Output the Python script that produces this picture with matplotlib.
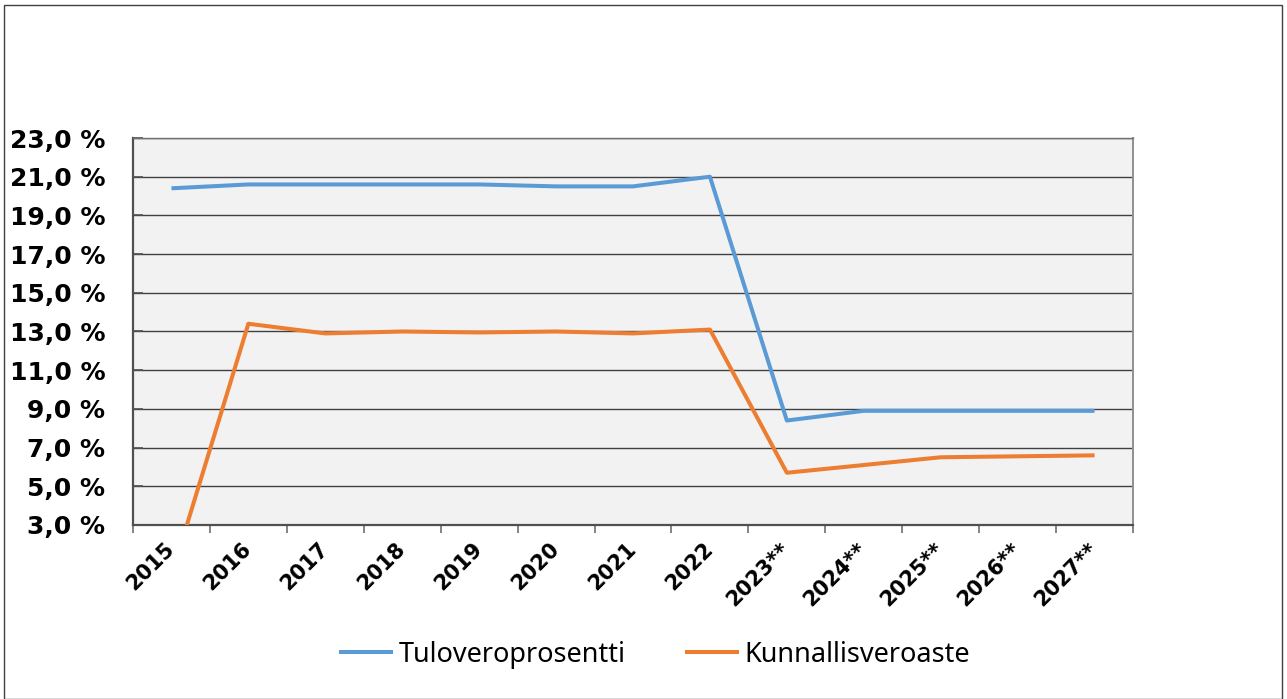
import matplotlib
matplotlib.use("Agg")
import matplotlib.pyplot as plt
import numpy as np
from matplotlib.patches import Rectangle

years = ["2015", "2016", "2017", "2018", "2019", "2020", "2021", "2022",
         "2023**", "2024**", "2025**", "2026**", "2027**"]
tulovero = [20.4, 20.6, 20.6, 20.6, 20.6, 20.5, 20.5, 21.0, 8.4, 8.9, 8.9, 8.9, 8.9]
kunnallis = [0.4, 13.4, 12.9, 13.0, 12.95, 13.0, 12.9, 13.1, 5.7, 6.1, 6.5, 6.55, 6.6]
series_names = ["Tuloveroprosentti", "Kunnallisveroaste"]
yticks = [3, 5, 7, 9, 11, 13, 15, 17, 19, 21, 23]

fig = plt.figure(figsize=(12.87, 6.99), dpi=100)
ax = fig.add_axes([133/1287, 1-525/699, 1000/1287, 387/699])
ax.set_facecolor("#f2f2f2")

x = np.arange(len(years))
ax.plot(x, tulovero, color="#5B9BD5", lw=2.9, label=series_names[0], solid_capstyle="butt", zorder=3)
ax.plot(x, kunnallis, color="#ED7D31", lw=2.9, label=series_names[1], solid_capstyle="butt", zorder=3)

ax.set_xlim(-0.5, len(years) - 0.5)
ax.set_ylim(3, 23)
ax.set_yticks(yticks)
ax.set_yticklabels([f"{v},0 %" for v in yticks], fontsize=18, fontweight="bold", family="DejaVu Sans")
ax.yaxis.grid(True, color="#404040", lw=1.0, zorder=1)
ax.tick_params(axis="y", direction="in", length=7, width=1.2, color="#505050", pad=20)

ax.set_xticks(x)
ax.set_xticklabels(years, rotation=45, ha="right", va="center", rotation_mode="anchor",
                   fontsize=15, fontweight="bold")
ax.tick_params(axis="x", which="major", length=0, pad=15)
ax.set_xticks(np.arange(-0.5, len(years)), minor=True)
ax.tick_params(axis="x", which="minor", direction="out", length=6, width=1.2, color="#707070")

for s in ["left", "bottom"]:
    ax.spines[s].set_color("#505050")
    ax.spines[s].set_linewidth(1.6)
ax.spines["right"].set_color("#909090")
ax.spines["right"].set_linewidth(1.4)
ax.spines["top"].set_color("#707070")
ax.spines["top"].set_linewidth(1.0)

leg = fig.legend(loc="center", bbox_to_anchor=(0.5086, 0.063), ncol=2, frameon=False,
                 prop={"family": "Noto Sans", "size": 19.5}, handlelength=2.0,
                 handletextpad=0.2, columnspacing=2.2)

fig.patches.append(Rectangle((4/1287, 0), 1278/1287, 694/699, transform=fig.transFigure,
                             fill=False, edgecolor="#404040", lw=1.0))

fig.savefig("out.png", dpi=100)
